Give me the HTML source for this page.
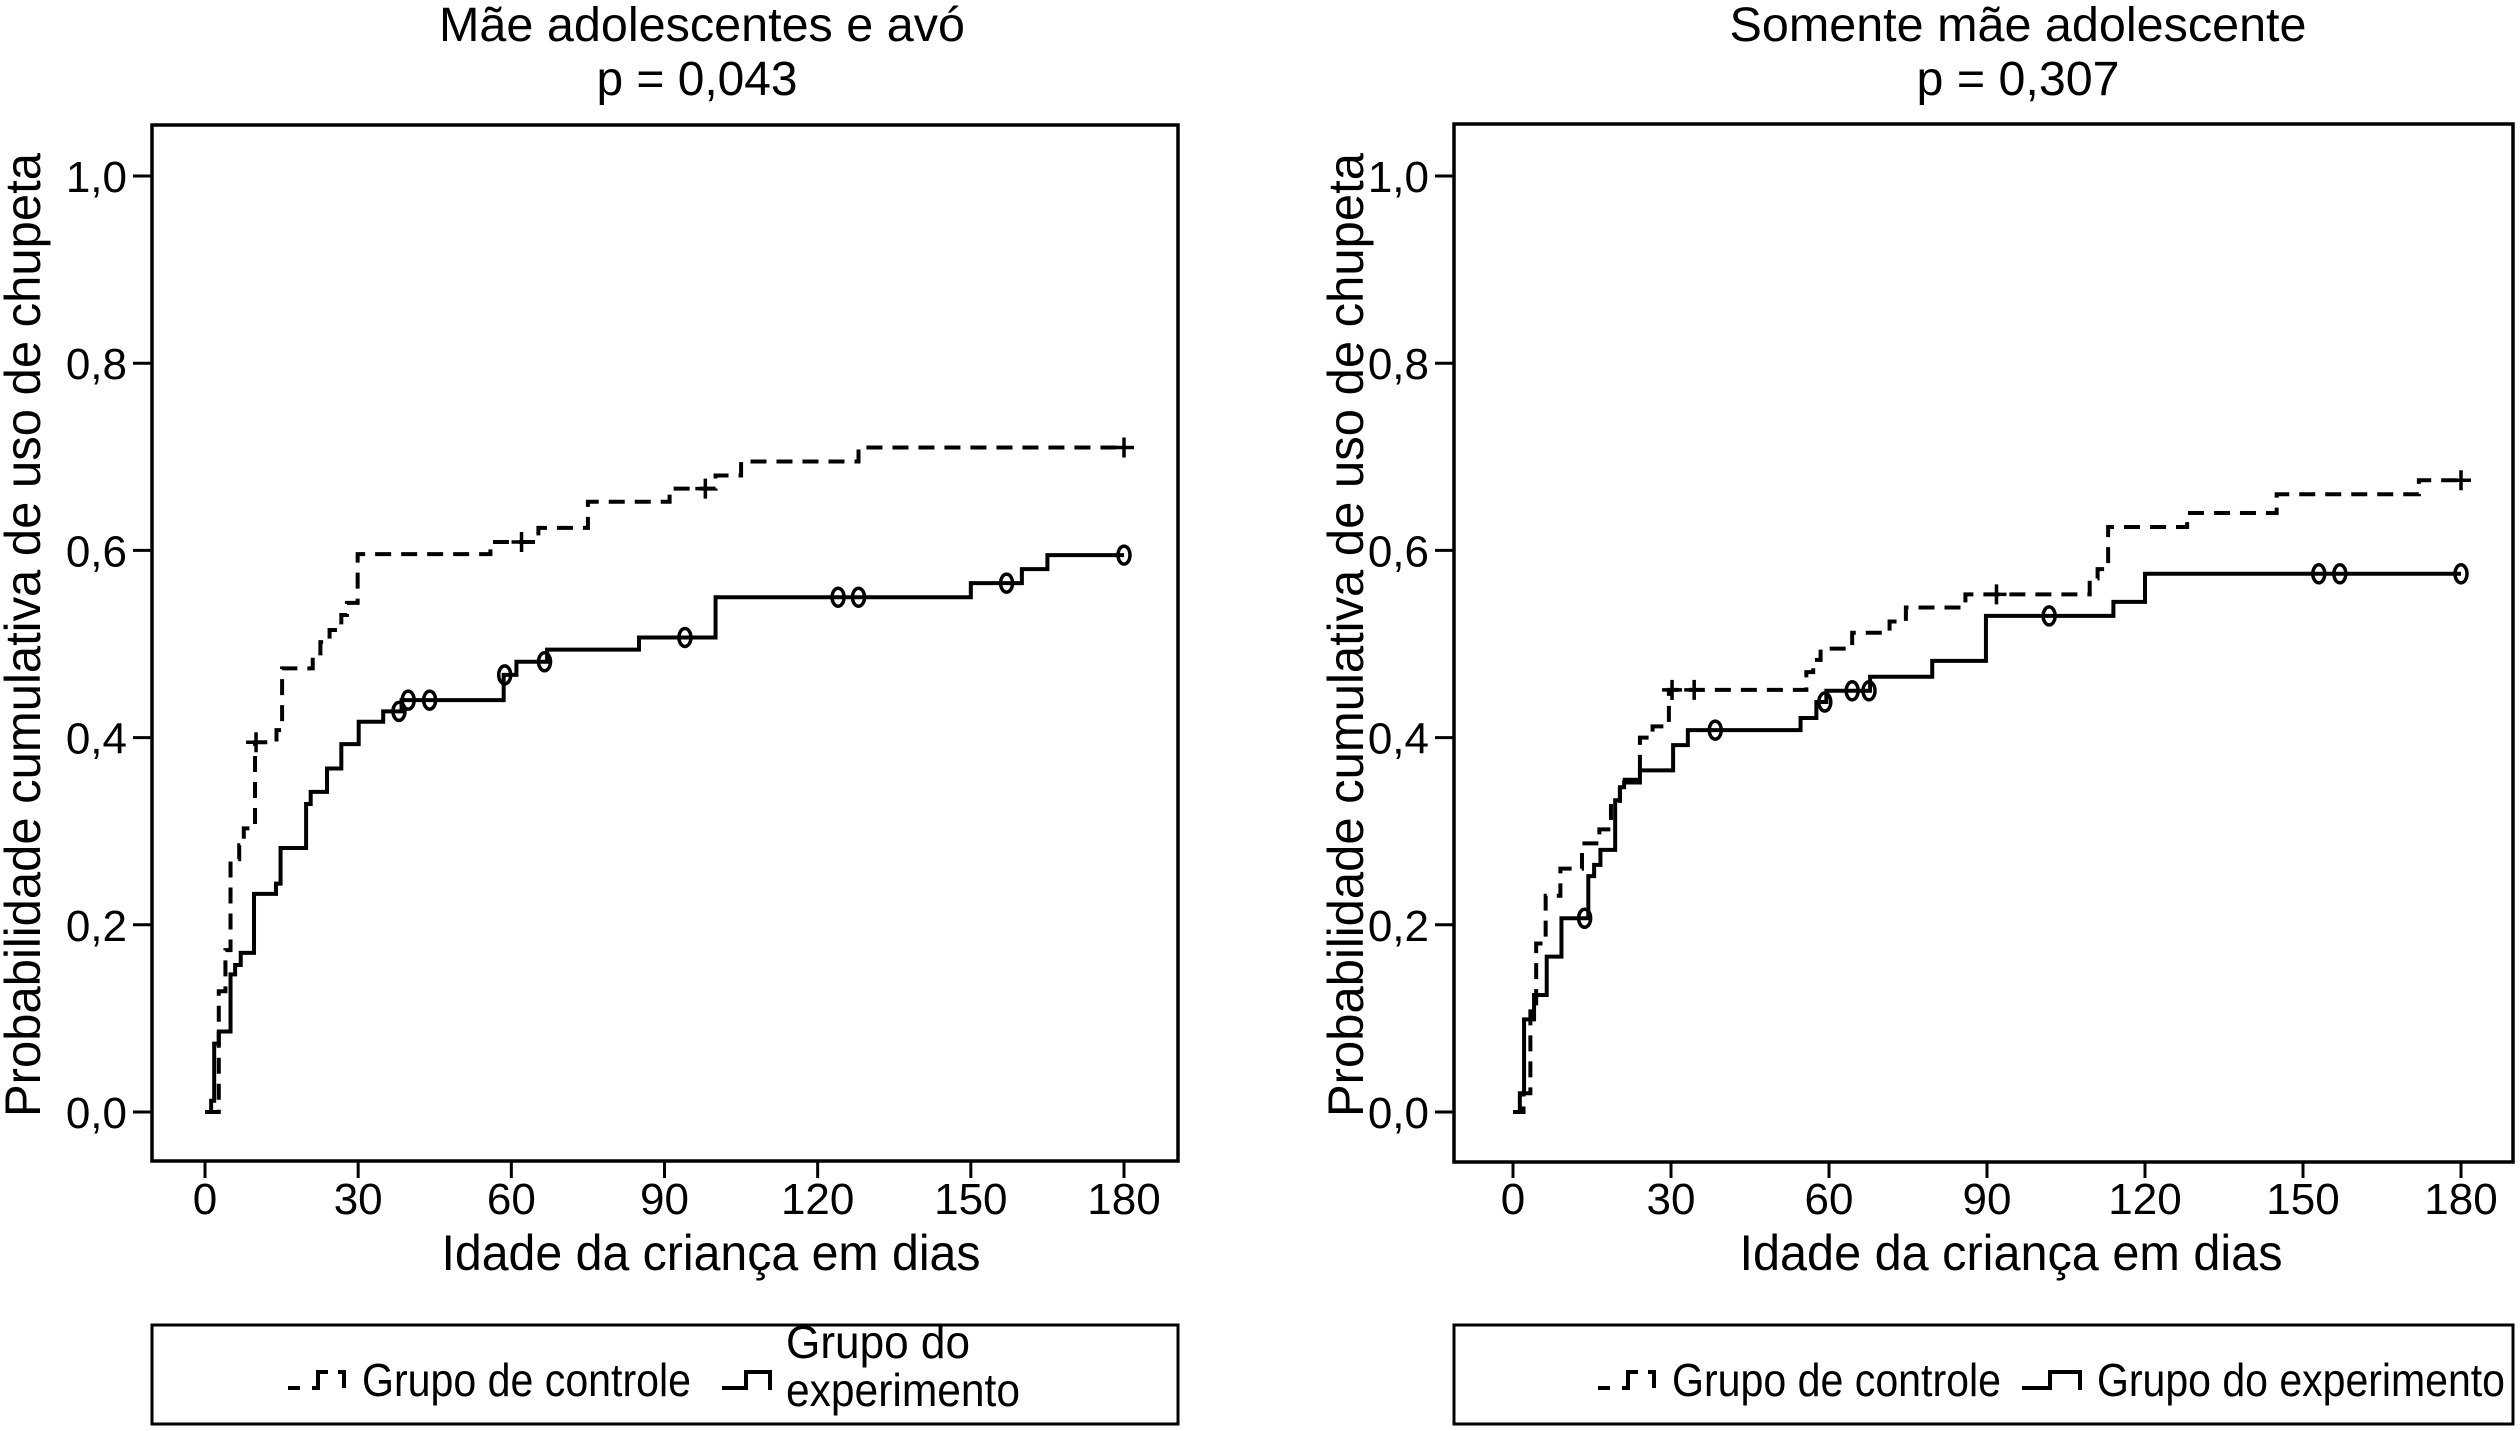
<!DOCTYPE html>
<html><head><meta charset="utf-8">
<style>
html,body{margin:0;padding:0;background:#fff;}
svg{display:block;font-family:"Liberation Sans",Arial,sans-serif;}
</style></head>
<body>
<svg id="chart" width="2520" height="1431" viewBox="0 0 2520 1431" xmlns="http://www.w3.org/2000/svg">
<rect width="2520" height="1431" fill="#fff"/>
<g id="left">
  <text x="702" y="41" font-size="48" text-anchor="middle" textLength="526" lengthAdjust="spacingAndGlyphs">Mãe adolescentes e avó</text>
  <text x="697" y="95" font-size="48" text-anchor="middle" textLength="201" lengthAdjust="spacingAndGlyphs">p = 0,043</text>
  <rect x="152" y="125" width="1026" height="1036" fill="none" stroke="#000" stroke-width="3.5"/>
  <text x="711" y="1270" font-size="50" text-anchor="middle" textLength="539" lengthAdjust="spacingAndGlyphs">Idade da criança em dias</text>
  <text transform="translate(40,635) rotate(-90)" font-size="50" text-anchor="middle" textLength="964" lengthAdjust="spacingAndGlyphs">Probabilidade cumulativa de uso de chupeta</text>
  <rect x="152" y="1325" width="1026" height="99" fill="none" stroke="#000" stroke-width="3"/>
  <path d="M288 1388 H300 M312 1388 H318 V1372 H328 M338 1372 H344 V1388" fill="none" stroke="#000" stroke-width="4"/>
  <text x="362" y="1396" font-size="46" textLength="329" lengthAdjust="spacingAndGlyphs">Grupo de controle</text>
  <path d="M722 1388 H746 V1372 H770 V1390" fill="none" stroke="#000" stroke-width="4"/>
  <text x="786" y="1358" font-size="46" textLength="184" lengthAdjust="spacingAndGlyphs">Grupo do</text>
  <text x="786" y="1406" font-size="46" textLength="234" lengthAdjust="spacingAndGlyphs">experimento</text>
</g>
<g id="right">
  <text x="2018" y="41" font-size="48" text-anchor="middle" textLength="577" lengthAdjust="spacingAndGlyphs">Somente mãe adolescente</text>
  <text x="2018" y="95" font-size="48" text-anchor="middle" textLength="203" lengthAdjust="spacingAndGlyphs">p = 0,307</text>
  <rect x="1454" y="124" width="1059" height="1038" fill="none" stroke="#000" stroke-width="3.5"/>
  <text x="2011" y="1270" font-size="50" text-anchor="middle" textLength="543" lengthAdjust="spacingAndGlyphs">Idade da criança em dias</text>
  <text transform="translate(1363,635) rotate(-90)" font-size="50" text-anchor="middle" textLength="964" lengthAdjust="spacingAndGlyphs">Probabilidade cumulativa de uso de chupeta</text>
  <rect x="1454" y="1325" width="1059" height="99" fill="none" stroke="#000" stroke-width="3"/>
  <path d="M1598 1388 H1610 M1622 1388 H1628 V1372 H1638 M1648 1372 H1654 V1388" fill="none" stroke="#000" stroke-width="4"/>
  <text x="1672" y="1396" font-size="46" textLength="329" lengthAdjust="spacingAndGlyphs">Grupo de controle</text>
  <path d="M2022 1388 H2050 V1372 H2080 V1390" fill="none" stroke="#000" stroke-width="4"/>
  <text x="2097" y="1396" font-size="46" textLength="408" lengthAdjust="spacingAndGlyphs">Grupo do experimento</text>
</g>
</svg>
<script>
const xTicks = [0, 30, 60, 90, 120, 150, 180];
const yTicks = [0, 0.2, 0.4, 0.6, 0.8, 1.0];
const yTickLabels = ["0,0", "0,2", "0,4", "0,6", "0,8", "1,0"];

const leftCtlDays = [0,2.7,4,5,6.7,7.6,9.8,14,15.1,21.1,22.6,24.4,26.7,27.8,29.9,55.9,65.3,75,91,100,105,128];
const leftCtlProb = [0,0.129,0.173,0.27,0.285,0.303,0.395,0.408,0.474,0.49,0.502,0.515,0.531,0.544,0.596,0.609,0.624,0.652,0.666,0.68,0.695,0.71];
const leftCtlCensored = [10,62,98,180];
const leftExpDays = [0,1.2,1.8,2.7,5,5.9,7,9.6,13.9,14.8,19.8,20.7,23.9,26.7,30.1,34.9,38.5,58.5,61,67,85,100,150,160,165];
const leftExpProb = [0,0.012,0.073,0.086,0.147,0.157,0.17,0.233,0.244,0.282,0.329,0.342,0.367,0.393,0.417,0.428,0.44,0.467,0.481,0.494,0.507,0.55,0.565,0.58,0.595];
const leftExpCensored = [38,39.8,44,58.7,66.5,94,124,128,157,180];

const rightCtlDays = [0,2,3.3,4.4,6.2,9,13.1,16.4,18.6,20.3,24.1,26.5,29.6,55.7,57,58.4,64.4,71.5,74.6,85.9,109.5,111,113,128,145,172];
const rightCtlProb = [0,0.02,0.116,0.18,0.231,0.26,0.287,0.302,0.33,0.355,0.4,0.412,0.451,0.47,0.483,0.495,0.512,0.524,0.539,0.553,0.57,0.58,0.625,0.64,0.66,0.675];
const rightCtlCensored = [30.2,34.4,91.8,180];
const rightExpDays = [0,1.3,2.1,4,6.4,9.2,14.3,15.4,16.6,19.4,20.3,21.1,24.1,30.4,33.2,54.6,57.6,59.5,67.8,79.6,89.8,114,120];
const rightExpProb = [0,0.02,0.099,0.125,0.166,0.207,0.252,0.264,0.28,0.333,0.347,0.352,0.365,0.392,0.408,0.421,0.438,0.45,0.465,0.482,0.53,0.545,0.575];
const rightExpCensored = [13.6,38.4,59.2,64.4,67.6,101.8,153,157,180];

const NS = "http://www.w3.org/2000/svg";
function mk(tag, attrs, parent) {
  const e = document.createElementNS(NS, tag);
  for (const k in attrs) e.setAttribute(k, attrs[k]);
  parent.appendChild(e);
  return e;
}
function stepAt(days, prob, d) {
  let p = prob[0];
  for (let i = 0; i < days.length; i++) if (days[i] <= d) p = prob[i];
  return p;
}
function drawPanel(g, prefix, x0, x180, days1, prob1, cens1, days2, prob2, cens2) {
  const xs = d => x0 + (x180 - x0) * d / 180;
  const ys = p => 1112 - (1112 - 176) * p;
  const bottom = 1161;
  const left = prefix === "left" ? 152 : 1454;
  xTicks.forEach(t => {
    const tk = mk("line", {x1: xs(t), x2: xs(t), y1: bottom, y2: bottom + 17, stroke: "#000", "stroke-width": 3}, g);
    
    
    const lb = mk("text", {x: xs(t), y: 1214, "font-size": 44, "text-anchor": "middle"}, g);
    lb.textContent = String(t);
    
    
  });
  yTicks.forEach((t, i) => {
    const tk = mk("line", {x1: left - 19, x2: left, y1: ys(t), y2: ys(t), stroke: "#000", "stroke-width": 3}, g);
    
    
    const lb = mk("text", {x: left - 25, y: ys(t) + 16, "font-size": 44, "text-anchor": "end"}, g);
    lb.textContent = yTickLabels[i];
    
    
  });
  function stepPath(days, prob) {
    let d = "M" + xs(days[0]) + " " + ys(prob[0]);
    for (let i = 1; i < days.length; i++) {
      d += " H" + xs(days[i]) + " V" + ys(prob[i]);
    }
    d += " H" + xs(180);
    return d;
  }
  const ctl = mk("path", {d: stepPath(days1, prob1), fill: "none", stroke: "#000", "stroke-width": 4, "stroke-dasharray": "16 10"}, g);
  
  
  const exp = mk("path", {d: stepPath(days2, prob2), fill: "none", stroke: "#000", "stroke-width": 4}, g);
  
  
  cens1.forEach(c => {
    const cx = xs(c), cy = ys(stepAt(days1, prob1, c));
    const m = mk("path", {d: `M${cx-10} ${cy} H${cx+10} M${cx} ${cy-10} V${cy+10}`, stroke: "#000", "stroke-width": 3.5, fill: "none"}, g);
    
    
  });
  cens2.forEach(c => {
    const cx = xs(c), cy = ys(stepAt(days2, prob2, c));
    const m = mk("ellipse", {cx: cx, cy: cy, rx: 6, ry: 9, stroke: "#000", "stroke-width": 3.5, fill: "none"}, g);
    
    
  });
}
drawPanel(document.getElementById("left"), "left", 205, 1124,
  leftCtlDays, leftCtlProb, leftCtlCensored, leftExpDays, leftExpProb, leftExpCensored);
drawPanel(document.getElementById("right"), "right", 1513, 2461,
  rightCtlDays, rightCtlProb, rightCtlCensored, rightExpDays, rightExpProb, rightExpCensored);
</script>
</body></html>
